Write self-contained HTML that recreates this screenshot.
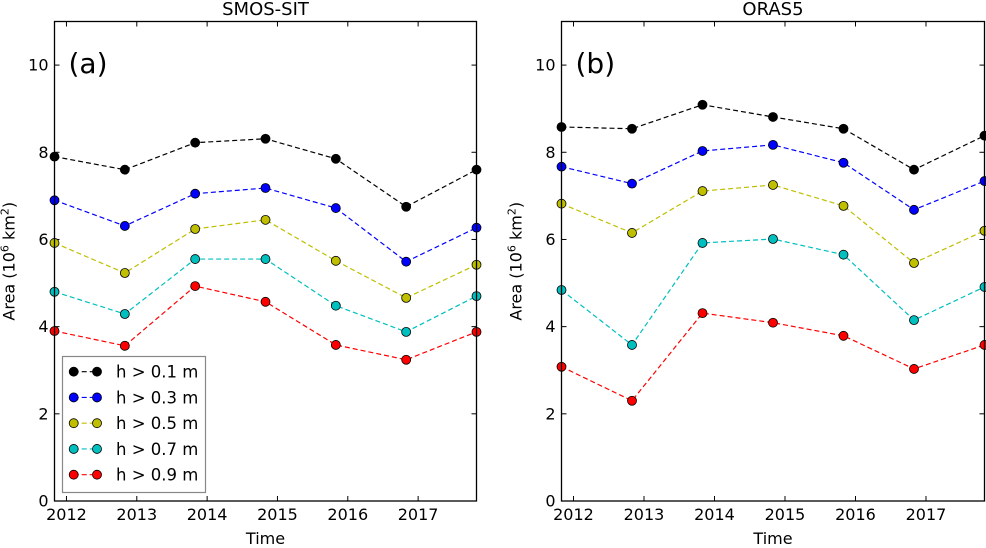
<!DOCTYPE html>
<html><head><meta charset="utf-8"><style>
body{margin:0;background:#fff}
svg{display:block;font-family:"DejaVu Sans","Liberation Sans",sans-serif}
</style></head><body>
<svg id="c" width="986" height="548"></svg>
<script>
const years = [2011.83, 2012.83, 2013.83, 2014.83, 2015.83, 2016.83, 2017.83];
const xTicks = [2012, 2013, 2014, 2015, 2016, 2017];
const yTicks = [0, 2, 4, 6, 8, 10];
const seriesLabels = ["h > 0.1 m", "h > 0.3 m", "h > 0.5 m", "h > 0.7 m", "h > 0.9 m"];
const seriesColors = ["#000000", "#0000ff", "#bfbf00", "#00bfbf", "#ff0000"];
const smosH01 = [7.9, 7.6, 8.22, 8.31, 7.85, 6.75, 7.6];
const smosH03 = [6.9, 6.31, 7.05, 7.18, 6.72, 5.49, 6.27];
const smosH05 = [5.92, 5.23, 6.24, 6.45, 5.51, 4.66, 5.42];
const smosH07 = [4.8, 4.29, 5.55, 5.55, 4.48, 3.88, 4.7];
const smosH09 = [3.9, 3.56, 4.93, 4.57, 3.58, 3.24, 3.88];
const orasH01 = [8.58, 8.54, 9.09, 8.81, 8.54, 7.6, 8.38];
const orasH03 = [7.67, 7.28, 8.03, 8.17, 7.76, 6.68, 7.34];
const orasH05 = [6.82, 6.15, 7.11, 7.25, 6.77, 5.46, 6.2];
const orasH07 = [4.84, 3.58, 5.92, 6.01, 5.65, 4.15, 4.91];
const orasH09 = [3.08, 2.3, 4.31, 4.09, 3.79, 3.03, 3.58];

const NS = "http://www.w3.org/2000/svg";
const svg = document.getElementById("c");
function mk(tag, attrs, parent, text){
  const e = document.createElementNS(NS, tag);
  for (const k in attrs) e.setAttribute(k, attrs[k]);
  if (text !== undefined) e.textContent = text;
  (parent || svg).appendChild(e);
  return e;
}
const panels = [
  {L:54.5, R:476.5, title:"SMOS-SIT", tag:"(a)", data:[smosH01,smosH03,smosH05,smosH07,smosH09], legend:true, name:"panel-a"},
  {L:561.5, R:984.5, title:"ORAS5", tag:"(b)", data:[orasH01,orasH03,orasH05,orasH07,orasH09], legend:false, name:"panel-b"}
];
const T = 21.5, B = 501;
const x0 = years[0], x1 = years[years.length-1], yMax = 11;
panels.forEach(p => {
  const g = mk("g", {});
  
  
  const X = v => p.L + (v - x0) / (x1 - x0) * (p.R - p.L);
  const Y = v => B - v / yMax * (B - T);
  xTicks.forEach(t => {
    const x = X(t);
    mk("line", {x1:x, x2:x, y1:B, y2:B-5, stroke:"#000"}, g);
    mk("line", {x1:x, x2:x, y1:T, y2:T+5, stroke:"#000"}, g);
    const tl = mk("text", {x:x, y:B+19, "text-anchor":"middle", "font-size":"16"}, g, String(t));
    
    
  });
  yTicks.forEach(t => {
    const y = Y(t);
    mk("line", {x1:p.L, x2:p.L+5, y1:y, y2:y, stroke:"#000"}, g);
    mk("line", {x1:p.R, x2:p.R-5, y1:y, y2:y, stroke:"#000"}, g);
    const tl = mk("text", {x:p.L-6, y:y+5.5, "text-anchor":"end", "font-size":"16"}, g, String(t));
    
    
  });
  p.data.forEach((vals, si) => {
    const pts = vals.map((v,i) => X(years[i]) + "," + Y(v)).join(" ");
    const line = mk("polyline", {points:pts, fill:"none", stroke:seriesColors[si], "stroke-width":"1.2", "stroke-dasharray":"5,3"}, g);
    
    
    vals.forEach((v,i) => {
      const c = mk("circle", {cx:X(years[i]), cy:Y(v), r:4.5, fill:seriesColors[si], stroke:"#000", "stroke-width":"0.8"}, g);
      
      
    });
  });
  const frame = mk("rect", {x:p.L, y:T, width:p.R-p.L, height:B-T, fill:"none", stroke:"#000", "stroke-width":"1.3"}, g);
  
  
  const ti = mk("text", {x:(p.L+p.R)/2, y:15, "text-anchor":"middle", "font-size":"18"}, g, p.title);
  
  
  const tg = mk("text", {x:p.L+14, y:73, "font-size":"28"}, g, p.tag);
  
  
  const xl = mk("text", {x:(p.L+p.R)/2, y:548-4, "text-anchor":"middle", "font-size":"16"}, g, "Time");
  
  
  const yx = p.L - 40, yy = (T+B)/2;
  const yl = mk("text", {x:yx, y:yy, "text-anchor":"middle", "font-size":"16", transform:`rotate(-90 ${yx} ${yy})`}, g);
  
  
  mk("tspan", {}, yl, "Area (10");
  mk("tspan", {"font-size":"11", dy:"-6"}, yl, "6");
  mk("tspan", {dy:"6"}, yl, " km");
  mk("tspan", {"font-size":"11", dy:"-6"}, yl, "2");
  mk("tspan", {dy:"6"}, yl, ")");
  if (p.legend) {
    const lg = mk("g", {}, g);
    
    
    mk("rect", {x:62.5, y:356.5, width:143, height:136, fill:"#fff", stroke:"#888", "stroke-width":"1.2"}, lg);
    seriesLabels.forEach((lab, si) => {
      const y = 371.7 + si * 25.75;
      const e = mk("g", {}, lg);
      
      
      mk("line", {x1:73.7, x2:97, y1:y, y2:y, stroke:seriesColors[si], "stroke-width":"1.2", "stroke-dasharray":"5,3"}, e);
      mk("circle", {cx:73.7, cy:y, r:4.5, fill:seriesColors[si], stroke:"#000", "stroke-width":"0.8"}, e);
      mk("circle", {cx:97, cy:y, r:4.5, fill:seriesColors[si], stroke:"#000", "stroke-width":"0.8"}, e);
      mk("text", {x:116, y:y+6, "font-size":"16.5"}, e, lab);
    });
  }
});
</script>
</body></html>
